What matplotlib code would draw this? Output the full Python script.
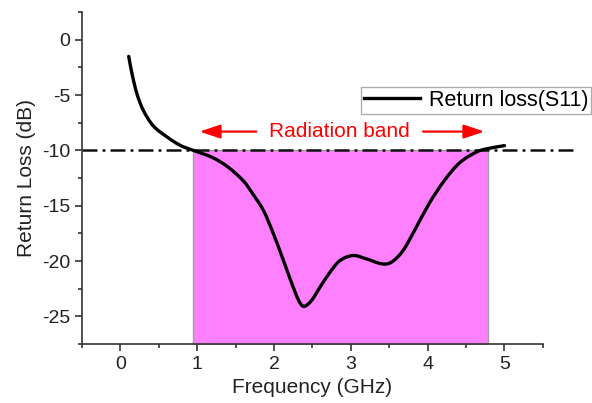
import matplotlib
matplotlib.use("Agg")
import matplotlib.pyplot as plt
import numpy as np
from matplotlib.lines import Line2D
from matplotlib.patches import PathPatch
from matplotlib.path import Path
from matplotlib.ticker import MultipleLocator

plt.rcParams["font.family"] = ["Liberation Sans", "DejaVu Sans"]
plt.rcParams["axes.unicode_minus"] = False

# -- measured S11 curve ---------------------------------------------------------
freq_ghz = [0.108, 0.152, 0.216, 0.30, 0.43, 0.61, 0.78, 0.95, 1.20, 1.40,
            1.60, 1.72, 1.86, 1.99, 2.12, 2.23, 2.32, 2.39, 2.49, 2.60,
            2.73, 2.86, 3.03, 3.20, 3.40, 3.53, 3.68, 3.84, 4.02, 4.22,
            4.42, 4.63, 4.76, 5.00]
s11_db = [-1.5, -3.1, -4.9, -6.4, -7.8, -8.8, -9.55, -10.0, -10.65, -11.5,
          -12.75, -13.9, -15.4, -17.5, -19.9, -22.0, -23.55, -24.1, -23.55, -22.35,
          -21.0, -19.95, -19.5, -19.8, -20.25, -20.1, -19.05, -17.1, -14.8, -12.7,
          -11.1, -10.17, -9.87, -9.57]

band_lo, band_hi = 0.95, 4.78
threshold_db = -10
ymin, ymax = -27.5, 2.5


def smooth_path(xs, ys):
    """Catmull-Rom curve through the points, as cubic Bezier segments."""
    pts = np.column_stack([xs, ys])
    ext = np.vstack([pts[0], pts, pts[-1]])
    verts = [pts[0]]
    codes = [Path.MOVETO]
    for i in range(1, len(ext) - 2):
        p0, p1, p2, p3 = ext[i - 1], ext[i], ext[i + 1], ext[i + 2]
        verts += [p1 + (p2 - p0) / 6, p2 - (p3 - p1) / 6, p2]
        codes += [Path.CURVE4] * 3
    return Path(verts, codes)


fig = plt.figure(figsize=(5.92, 4.03), dpi=100)
ax = fig.add_axes([0.1385, 0.1464, 0.7785, 0.8236])

# shaded radiation band below the -10 dB level
ax.fill_between([band_lo, band_hi], ymin, threshold_db, color="#ff80ff",
                edgecolor="#a0a0a0", linewidth=1.0, zorder=1)

# -10 dB reference line (runs past the axis end)
ax.plot([-0.5, 5.95], [threshold_db, threshold_db], color="#111111", lw=1.8,
        dashes=(6, 2, 1.2, 2), clip_on=False, zorder=2)

ax.add_patch(PathPatch(smooth_path(freq_ghz, s11_db), facecolor="none",
                       edgecolor="black", lw=2.4, capstyle="round",
                       joinstyle="round", zorder=3))

# band arrows + label
arrow_kw = dict(arrowstyle="-|>,head_length=0.9,head_width=0.3", color="red",
                lw=1.6, mutation_scale=14, shrinkA=0, shrinkB=0)
ax.annotate("", xy=(1.03, -8.3), xytext=(1.77, -8.3), arrowprops=arrow_kw)
ax.annotate("", xy=(4.74, -8.3), xytext=(3.94, -8.3), arrowprops=arrow_kw)
ax.text(2.855, -8.3, "Radiation band", color="red", fontsize=15,
        ha="center", va="center")

ax.set_xlim(-0.5, 5.5)
ax.set_ylim(ymin, ymax)
ax.xaxis.set_major_locator(MultipleLocator(1))
ax.xaxis.set_minor_locator(MultipleLocator(0.5))
ax.yaxis.set_major_locator(MultipleLocator(5))
ax.yaxis.set_minor_locator(MultipleLocator(2.5))
ax.tick_params(which="major", length=5, width=1.2, labelsize=14, colors="#333333",
               labelcolor="#222222")
ax.tick_params(which="minor", length=3, width=1.2, colors="#333333")

for side in ["top", "right"]:
    ax.spines[side].set_visible(False)
for side in ["left", "bottom"]:
    ax.spines[side].set_linewidth(1.2)
    ax.spines[side].set_color("#333333")

ax.set_xlabel("Frequency (GHz)", fontsize=15, labelpad=4, color="#222222")
ax.set_ylabel("Return Loss (dB)", fontsize=15, labelpad=4, color="#222222")

s11_handle = Line2D([], [], color="black", lw=2.4)
leg = ax.legend([s11_handle], ["Return loss(S11)"], loc="upper left",
                bbox_to_anchor=(0.605, 0.775), fontsize=15.5, frameon=True,
                fancybox=False, handlelength=2.6, handletextpad=0.4,
                borderpad=0.15, borderaxespad=0)
leg.get_frame().set_edgecolor("#999999")
leg.get_frame().set_linewidth(1.0)

fig.savefig("out.png", dpi=100)
